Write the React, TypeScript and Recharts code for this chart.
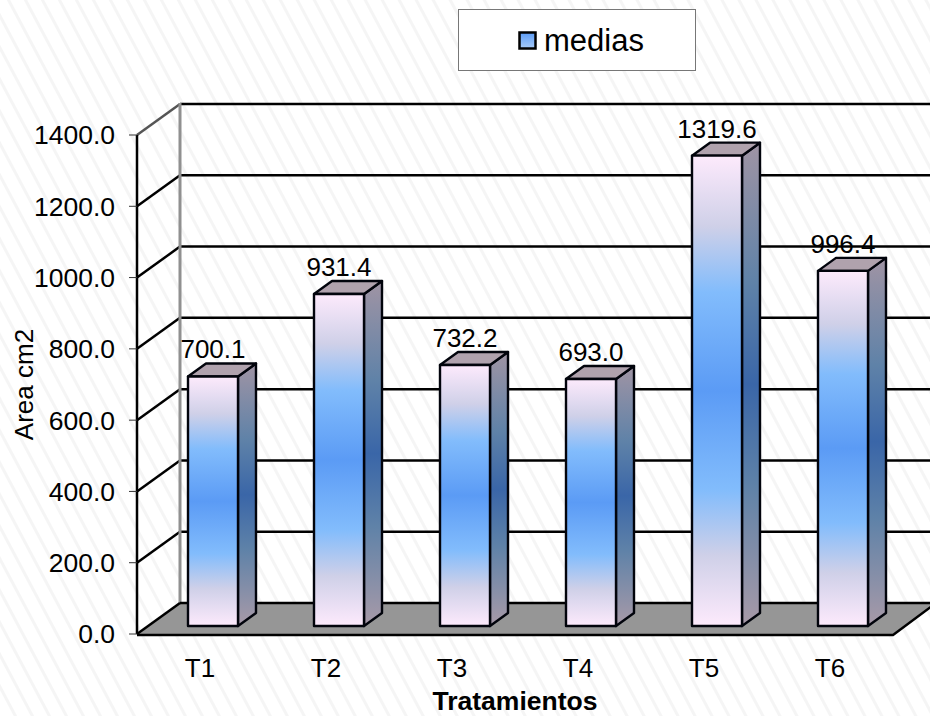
import React from "react";
import { BarChart, Bar, XAxis, YAxis, CartesianGrid, Legend, LabelList } from "recharts";

const categories = ["T1", "T2", "T3", "T4", "T5", "T6"];
const medias = [700.1, 931.4, 732.2, 693.0, 1319.6, 996.4];
const yTicks = [0, 200, 400, 600, 800, 1000, 1200, 1400];

const rows = categories.map((name, i) => ({ name, medias: medias[i] }));

const WIDTH = 930;
const HEIGHT = 716;
const FONT = '"Liberation Sans", Arial, sans-serif';

// Depth of the chart box and of each bar, as screen offsets.
const DEPTH_X = 43;
const DEPTH_Y = 31;
const BAR_DX = 18;
const BAR_DY = 13;
// Bars stand partway into the floor rather than on its front edge.
const BAR_SHIFT_X = 13;
const BAR_SHIFT_Y = 8;

function Bar3D(props: any) {
  const { x, y, width, height } = props;
  const fx = x + BAR_SHIFT_X;
  const fy = y - BAR_SHIFT_Y;
  const right = fx + width;
  const bottom = fy + height;
  return (
    <g stroke="#02040c" strokeWidth={2.4} strokeLinejoin="round">
      <polygon
        points={`${right},${fy} ${right + BAR_DX},${fy - BAR_DY} ${right + BAR_DX},${bottom - BAR_DY} ${right},${bottom}`}
        fill="url(#barSide)"
      />
      <polygon
        points={`${fx},${fy} ${fx + BAR_DX},${fy - BAR_DY} ${right + BAR_DX},${fy - BAR_DY} ${right},${fy}`}
        fill="#b0a2ad"
      />
      <rect x={fx} y={fy} width={width} height={height} fill="url(#barFront)" />
    </g>
  );
}

function ValueLabel(props: any) {
  const { x, y, width, value } = props;
  return (
    <text
      x={x + BAR_SHIFT_X + width / 2}
      y={y - BAR_SHIFT_Y - 18}
      textAnchor="middle"
      fontFamily={FONT}
      fontSize={26}
      fill="#000"
    >
      {Number(value).toFixed(1)}
    </text>
  );
}

// Each grid line runs across the back wall and folds forward along the side wall.
function DepthGridLine(props: any) {
  const { y1, x1, x2 } = props;
  const backY = y1 - DEPTH_Y;
  const isBottom = Math.abs(y1 - 634) < 1;
  const isTop = Math.abs(y1 - 135) < 1;
  if (isBottom) return <g />;
  return (
    <g fill="none">
      <path d={`M${x1},${y1} L${x1 + DEPTH_X},${backY}`} stroke={isTop ? "#555" : "#000"} strokeWidth={2.5} />
      <path d={`M${x1 + DEPTH_X},${backY} L${x2 + DEPTH_X},${backY}`} stroke="#000" strokeWidth={2.5} />
    </g>
  );
}

function LegendBox(props: any) {
  const entry = props.payload?.[0];
  return (
    <div
      style={{
        boxSizing: "border-box",
        width: 238,
        height: 62,
        paddingLeft: 59,
        paddingTop: 2,
        background: "#fff",
        border: "1px solid #777",
        display: "flex",
        alignItems: "center",
        fontFamily: FONT,
        fontSize: 31,
        color: "#000",
      }}
    >
      <svg width={20} height={20} style={{ marginRight: 6 }}>
        <rect x={1.5} y={1.5} width={16} height={16} fill="url(#legendSwatch)" stroke="#000" strokeWidth={2.5} />
      </svg>
      {entry ? entry.value : "medias"}
    </div>
  );
}

function HatchBackground() {
  return (
    <svg width={WIDTH} height={HEIGHT} style={{ position: "absolute", left: 0, top: 0 }}>
      <defs>
        <pattern id="hatch" width={15} height={15} patternUnits="userSpaceOnUse" patternTransform="rotate(-28)">
          <path d="M7.5,0 L7.5,15" stroke="#f5f5f5" strokeWidth={3} />
        </pattern>
      </defs>
      <rect x={0} y={0} width={WIDTH} height={HEIGHT} fill="url(#hatch)" />
    </svg>
  );
}

export default function App() {
  return (
    <div style={{ position: "absolute", left: 0, top: 0, width: WIDTH, height: HEIGHT, overflow: "hidden" }}>
      <HatchBackground />
      <BarChart
        width={WIDTH + 50}
        height={HEIGHT}
        data={rows}
        margin={{ top: 135, right: 87, bottom: 52, left: 77 }}
        style={{ fontFamily: FONT }}
      >
        <defs>
          <linearGradient id="barFront" x1="0" y1="0" x2="0" y2="1">
            <stop offset="0" stopColor="#fdeafc" />
            <stop offset="0.15" stopColor="#cfd0e8" />
            <stop offset="0.29" stopColor="#82bcfc" />
            <stop offset="0.5" stopColor="#5b9bf5" />
            <stop offset="0.71" stopColor="#82bcfc" />
            <stop offset="0.85" stopColor="#cfd0e8" />
            <stop offset="1" stopColor="#fdeafc" />
          </linearGradient>
          <linearGradient id="barSide" x1="0" y1="0" x2="0" y2="1">
            <stop offset="0" stopColor="#a094a4" />
            <stop offset="0.29" stopColor="#5f82a8" />
            <stop offset="0.5" stopColor="#3a66a8" />
            <stop offset="0.71" stopColor="#5f82a8" />
            <stop offset="1" stopColor="#a89aa8" />
          </linearGradient>
          <linearGradient id="legendSwatch" x1="0" y1="0" x2="0" y2="1">
            <stop offset="0" stopColor="#5b9bf5" />
            <stop offset="1" stopColor="#a8cbf8" />
          </linearGradient>
        </defs>
        <polygon points="137,634 180,603 936,603 893,634" fill="#969696" />
        <CartesianGrid vertical={false} horizontal={<DepthGridLine />} />
        <XAxis
          dataKey="name"
          height={30}
          axisLine={false}
          tickLine={false}
          tick={{ fontSize: 26, fill: "#000", fontFamily: FONT, dy: 17 }}
          label={{ value: "Tratamientos", position: "insideBottom", offset: -46, fontSize: 26.5, fontWeight: 700, fill: "#000", fontFamily: FONT }}
        />
        <YAxis
          width={60}
          domain={[0, 1400]}
          ticks={yTicks}
          tickFormatter={(v: number) => v.toFixed(1)}
          axisLine={false}
          tickLine={{ stroke: "#333", strokeWidth: 1 }}
          tickSize={8}
          tickMargin={14}
          tick={{ fontSize: 26.5, fill: "#000", fontFamily: FONT }}
          label={{ value: "Area cm2", angle: -90, position: "insideLeft", offset: -53, textAnchor: "middle", fontSize: 26, fill: "#000", fontFamily: FONT }}
        />
        <Legend
          layout="horizontal"
          verticalAlign="middle"
          align="center"
          content={<LegendBox />}
          wrapperStyle={{ position: "absolute", left: 458, top: 9, width: 238 }}
        />
        <Bar dataKey="medias" name="medias" isAnimationActive={false} shape={<Bar3D />} barSize={50}>
          <LabelList dataKey="medias" content={<ValueLabel />} />
        </Bar>
        <path d="M180,103 L180,603" stroke="#909090" strokeWidth={3} fill="none" />
        <path d="M137,135 L137,634" stroke="#000" strokeWidth={2.5} fill="none" />
        <path d="M137,634 L180,603" stroke="#000" strokeWidth={2.5} fill="none" />
        <path d="M137,635 L893,635 L936,603" stroke="#000" strokeWidth={2.5} fill="none" />
        <path d="M180,603 L936,603" stroke="#000" strokeWidth={2.5} fill="none" />
      </BarChart>
    </div>
  );
}
